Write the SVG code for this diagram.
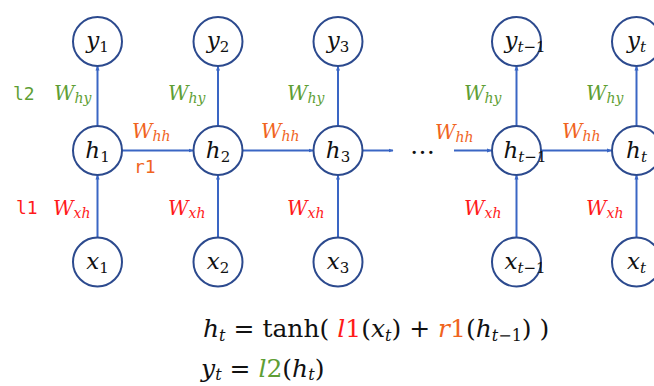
<svg xmlns="http://www.w3.org/2000/svg" width="654" height="386" viewBox="0 0 654 386">
<defs>
<marker id="ah" viewBox="0 0 10 10" refX="9" refY="5" markerWidth="5" markerHeight="5" orient="auto" markerUnits="userSpaceOnUse">
<path d="M0,1 L10,5 L0,9 z" fill="#3A66C4"/>
</marker>
<style>
.node circle{fill:#fff;stroke:#2C4A8E;stroke-width:2}
.nl{font-family:"DejaVu Serif",serif;font-style:italic;font-size:23px;fill:#111;text-anchor:middle}
.sub{font-style:normal;font-size:15px}
.subi{font-style:italic;font-size:15px}
.conn line{stroke:#3A66C4;stroke-width:2;marker-end:url(#ah)}
.w{font-family:"DejaVu Serif",serif;font-style:italic;font-size:20px}
.ws{font-size:14px}
.g{fill:#5E9E34}
.o{fill:#F0641E}
.r{fill:#FF1A1A}
.mono{font-family:"DejaVu Sans Mono","Liberation Mono",monospace;font-size:18px}
.eq{font-family:"DejaVu Serif",serif;font-size:25px;fill:#111}
.it{font-style:italic}
</style>
</defs>
<g id="connectors" class="conn">
<line x1="97.5" y1="237.5" x2="97.5" y2="175"/>
<line x1="218" y1="237.5" x2="218" y2="175"/>
<line x1="338" y1="237.5" x2="338" y2="175"/>
<line x1="516.5" y1="237.5" x2="516.5" y2="175"/>
<line x1="636.5" y1="237.5" x2="636.5" y2="175"/>
<line x1="97.5" y1="125.5" x2="97.5" y2="66"/>
<line x1="218" y1="125.5" x2="218" y2="66"/>
<line x1="338" y1="125.5" x2="338" y2="66"/>
<line x1="516.5" y1="125.5" x2="516.5" y2="66"/>
<line x1="636.5" y1="125.5" x2="636.5" y2="66"/>
<line x1="122" y1="150.5" x2="193" y2="150.5"/>
<line x1="242.5" y1="150.5" x2="313" y2="150.5"/>
<line x1="362.5" y1="150.5" x2="393" y2="150.5"/>
<line x1="454" y1="150.5" x2="491.5" y2="150.5"/>
<line x1="541" y1="150.5" x2="611.5" y2="150.5"/>
</g>
<g id="node-y1" class="node"><circle cx="97.5" cy="41.5" r="24.5"/><text class="nl" x="97.5" y="48">y<tspan class="sub" dy="4">1</tspan></text></g>
<g id="node-y2" class="node"><circle cx="218" cy="41.5" r="24.5"/><text class="nl" x="218" y="48">y<tspan class="sub" dy="4">2</tspan></text></g>
<g id="node-y3" class="node"><circle cx="338" cy="41.5" r="24.5"/><text class="nl" x="338" y="48">y<tspan class="sub" dy="4">3</tspan></text></g>
<g id="node-yt1" class="node"><circle cx="516.5" cy="41.5" r="24.5"/><text class="nl" x="525" y="48">y<tspan class="subi" dy="4">t</tspan><tspan class="sub">−1</tspan></text></g>
<g id="node-yt" class="node"><circle cx="636.5" cy="41.5" r="24.5"/><text class="nl" x="636.5" y="48">y<tspan class="subi" dy="4">t</tspan></text></g>
<g id="node-h1" class="node"><circle cx="97.5" cy="150.5" r="24.5"/><text class="nl" x="97.5" y="158">h<tspan class="sub" dy="4">1</tspan></text></g>
<g id="node-h2" class="node"><circle cx="218" cy="150.5" r="24.5"/><text class="nl" x="218" y="158">h<tspan class="sub" dy="4">2</tspan></text></g>
<g id="node-h3" class="node"><circle cx="338" cy="150.5" r="24.5"/><text class="nl" x="338" y="158">h<tspan class="sub" dy="4">3</tspan></text></g>
<g id="node-ht1" class="node"><circle cx="516.5" cy="150.5" r="24.5"/><text class="nl" x="525" y="158">h<tspan class="subi" dy="4">t</tspan><tspan class="sub">−1</tspan></text></g>
<g id="node-ht" class="node"><circle cx="636.5" cy="150.5" r="24.5"/><text class="nl" x="636.5" y="158">h<tspan class="subi" dy="4">t</tspan></text></g>
<g id="node-x1" class="node"><circle cx="97.5" cy="262" r="24.5"/><text class="nl" x="97.5" y="269">x<tspan class="sub" dy="4">1</tspan></text></g>
<g id="node-x2" class="node"><circle cx="218" cy="262" r="24.5"/><text class="nl" x="218" y="269">x<tspan class="sub" dy="4">2</tspan></text></g>
<g id="node-x3" class="node"><circle cx="338" cy="262" r="24.5"/><text class="nl" x="338" y="269">x<tspan class="sub" dy="4">3</tspan></text></g>
<g id="node-xt1" class="node"><circle cx="516.5" cy="262" r="24.5"/><text class="nl" x="525" y="269">x<tspan class="subi" dy="4">t</tspan><tspan class="sub">−1</tspan></text></g>
<g id="node-xt" class="node"><circle cx="636.5" cy="262" r="24.5"/><text class="nl" x="636.5" y="269">x<tspan class="subi" dy="4">t</tspan></text></g>
<g id="labels">
<text class="mono g" x="13" y="100">l2</text>
<text class="mono r" x="16" y="214">l1</text>
<text class="mono o" x="134" y="173">r1</text>
<text class="w g" x="54" y="100">W<tspan class="ws" dy="3">hy</tspan></text>
<text class="w g" x="168" y="100">W<tspan class="ws" dy="3">hy</tspan></text>
<text class="w g" x="287" y="100">W<tspan class="ws" dy="3">hy</tspan></text>
<text class="w g" x="464" y="100">W<tspan class="ws" dy="3">hy</tspan></text>
<text class="w g" x="586" y="100">W<tspan class="ws" dy="3">hy</tspan></text>
<text class="w o" x="132" y="138">W<tspan class="ws" dy="3">hh</tspan></text>
<text class="w o" x="261" y="138">W<tspan class="ws" dy="3">hh</tspan></text>
<text class="w o" x="435" y="139">W<tspan class="ws" dy="3">hh</tspan></text>
<text class="w o" x="562" y="138">W<tspan class="ws" dy="3">hh</tspan></text>
<text class="w r" x="53" y="215">W<tspan class="ws" dy="3">xh</tspan></text>
<text class="w r" x="168" y="215">W<tspan class="ws" dy="3">xh</tspan></text>
<text class="w r" x="287" y="215">W<tspan class="ws" dy="3">xh</tspan></text>
<text class="w r" x="464" y="215">W<tspan class="ws" dy="3">xh</tspan></text>
<text class="w r" x="586" y="215">W<tspan class="ws" dy="3">xh</tspan></text>
<text class="eq" x="410" y="154">…</text>
</g>
<g id="equations">
<text class="eq" x="203" y="337"><tspan class="it">h</tspan><tspan class="it" font-size="16" dy="4">t</tspan><tspan dy="-4"> = tanh( </tspan><tspan class="it r">l</tspan><tspan class="r">1</tspan>(<tspan class="it">x</tspan><tspan class="it" font-size="16" dy="4">t</tspan><tspan dy="-4">) + </tspan><tspan class="it o">r</tspan><tspan class="o">1</tspan>(<tspan class="it">h</tspan><tspan font-size="16" dy="4"><tspan class="it">t</tspan>−1</tspan><tspan dy="-4">) )</tspan></text>
<text class="eq" x="201" y="377"><tspan class="it">y</tspan><tspan class="it" font-size="16" dy="3">t</tspan><tspan dy="-3"> = </tspan><tspan class="it g">l</tspan><tspan class="g">2</tspan>(<tspan class="it">h</tspan><tspan class="it" font-size="16" dy="3">t</tspan><tspan dy="-3">)</tspan></text>
</g>
</svg>
